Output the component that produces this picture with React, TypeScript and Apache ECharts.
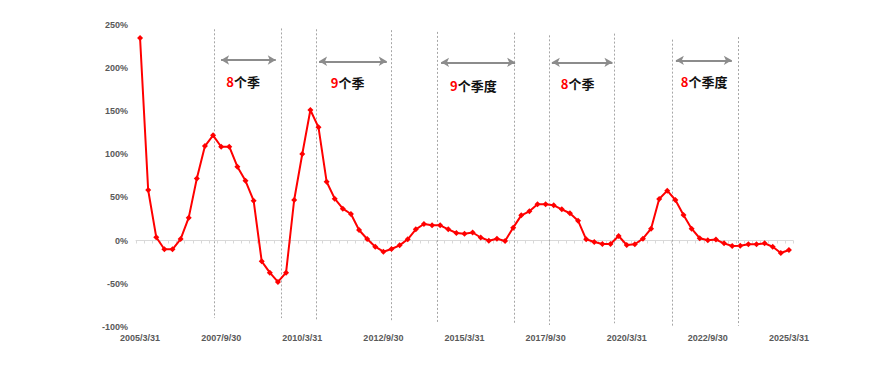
import React, { useEffect, useRef } from "react";
import * as echarts from "echarts";

// Quarter-end categories, 2005/3/31 .. 2025/3/31
const YEARS_FROM = 2005;
const QUARTER_ENDS = ["3/31", "6/30", "9/30", "12/31"];
const POINT_COUNT = 81;
const categories: string[] = [];
for (let y = YEARS_FROM; categories.length < POINT_COUNT; y++) {
  for (const q of QUARTER_ENDS) {
    if (categories.length < POINT_COUNT) categories.push(`${y}/${q}`);
  }
}

// Growth rate (%)
const growth = [
  235, 58.6, 3.7, -10.2, -10.2, 1.7, 26.5, 72, 109.6, 122,
  108.8, 108.8, 85.6, 69.2, 46.2, -24.2, -37.3, -48.1, -37.3, 47,
  100.3, 151.4, 131.3, 68.2, 48.5, 36.9, 30.7, 12.2, 1.7, -7.2,
  -13, -9.9, -5.6, 1.4, 13, 19.1, 17.6, 17.6, 13, 8.7,
  7.9, 9.3, 3.5, -0.2, 2.1, -0.6, 14.9, 29.2, 33.9, 42,
  42, 40.8, 36.2, 31.6, 23, 1.4, -1.7, -4.1, -4.1, 5.2,
  -5.2, -4.4, 2.1, 13.7, 48.1, 57.8, 47, 29.6, 13.7, 2.6,
  0.2, 1.1, -3.3, -6.4, -6, -4.4, -4.4, -3.3, -7.2, -14.5,
  -11,
];

const yTicks = { min: -100, max: 250, interval: 50 };

// Annotations (in category-index units / value units)
const boundaryX = [9.16, 17.39, 21.7, 30.95, 36.59, 46.16, 50.44, 58.49, 65.6, 73.7];
const boundaryTop = [245, 246, 245, 244, 242, 241, 238, 240, 233, 236];
const boundaryBottom = [-90, -90, -92, -94, -95, -96, -98, -96, -100, -99];

const arrowFrom = [9.99, 22.07, 37.11, 50.77, 66.06];
const arrowTo = [16.73, 30.42, 46.24, 58.24, 72.96];
const arrowY = [209.4, 207.9, 206.7, 206.7, 209];

const spanCount = ["8", "9", "9", "8", "8"];
const spanUnit = ["个季", "个季", "个季度", "个季", "个季度"];
const spanLabelX = [12.7, 25.59, 41.1, 53.95, 69.55];
const spanLabelY = [184.2, 183.8, 180, 181.6, 184.7];

const LABEL_FONT = "'Liberation Sans', Arial, sans-serif";

export default function App() {
  const ref = useRef<HTMLDivElement>(null);
  useEffect(() => {
    if (!ref.current) return;
    const chart = echarts.init(ref.current, null, { renderer: "svg" });
    const n = categories.length;
    chart.setOption({
      animation: false,
      backgroundColor: "#ffffff",
      grid: { left: 136, right: 80, top: 25, bottom: 42.3, containLabel: false },
      xAxis: [
        {
          type: "category",
          data: categories,
          boundaryGap: true,
          position: "bottom",
          axisLine: { show: false, onZero: false },
          axisTick: { show: false },
          axisLabel: {
            interval: 9,
            margin: 7,
            color: "#595959",
            fontSize: 9,
            fontWeight: "bold",
            fontFamily: LABEL_FONT,
          },
          splitLine: { show: false },
        },
        {
          type: "category",
          data: categories,
          boundaryGap: true,
          position: "bottom",
          axisLine: { show: true, onZero: true, lineStyle: { color: "#d9d9d9", width: 1 } },
          axisTick: { show: true, interval: 0, length: 3, lineStyle: { color: "#d9d9d9" } },
          axisLabel: { show: false },
          splitLine: { show: false },
        },
        {
          type: "value",
          min: -0.5,
          max: n - 0.5,
          show: false,
          splitLine: { show: false },
        },
      ],
      yAxis: {
        type: "value",
        min: yTicks.min,
        max: yTicks.max,
        interval: yTicks.interval,
        axisLine: { show: false },
        axisTick: { show: false },
        splitLine: { show: false },
        axisLabel: {
          formatter: "{value}%",
          color: "#595959",
          fontSize: 9,
          fontWeight: "bold",
          fontFamily: LABEL_FONT,
          margin: 8,
        },
      },
      series: [
        {
          type: "line",
          xAxisIndex: 0,
          data: growth,
          symbol: "diamond",
          symbolSize: 6,
          showSymbol: true,
          showAllSymbol: true,
          lineStyle: { color: "#ff0000", width: 2 },
          itemStyle: { color: "#ff0000" },
          z: 5,
        },
        {
          type: "line",
          xAxisIndex: 2,
          data: [],
          silent: true,
          markLine: {
            silent: true,
            symbol: ["none", "none"],
            label: { show: false },
            lineStyle: { color: "#a6a6a6", type: [2, 2], width: 1 },
            emphasis: { disabled: true },
            data: boundaryX.map((x, i) => [
              { coord: [x, boundaryTop[i]] },
              { coord: [x, boundaryBottom[i]] },
            ]),
          },
        },
        {
          type: "line",
          xAxisIndex: 2,
          data: [],
          silent: true,
          markLine: {
            silent: true,
            symbol: ["arrow", "arrow"],
            symbolSize: [7, 8],
            label: { show: false },
            lineStyle: { color: "#8c8c8c", type: "solid", width: 2 },
            emphasis: { disabled: true },
            data: arrowFrom.map((x, i) => [
              { coord: [x, arrowY[i]] },
              { coord: [arrowTo[i], arrowY[i]] },
            ]),
          },
          markPoint: {
            silent: true,
            symbol: "rect",
            symbolSize: 1,
            itemStyle: { color: "rgba(0,0,0,0)" },
            data: spanLabelX.map((x, i) => ({
              coord: [x, spanLabelY[i]],
              label: {
                show: true,
                position: "inside",
                formatter: `{r|${spanCount[i]}}{k|${spanUnit[i]}}`,
                rich: {
                  r: {
                    color: "#ff0000",
                    fontSize: 13,
                    fontWeight: "bold",
                    fontFamily: "'Noto Sans CJK SC', 'Liberation Sans', sans-serif",
                  },
                  k: {
                    color: "#111111",
                    fontSize: 13,
                    fontWeight: "bold",
                    fontFamily: "'Noto Sans CJK SC', sans-serif",
                  },
                },
              },
            })),
          },
        },
      ],
    });
    return () => chart.dispose();
  }, []);
  return (
    <div
      ref={ref}
      style={{ position: "fixed", left: 0, top: 0, width: 873, height: 369, background: "#fff" }}
    />
  );
}
